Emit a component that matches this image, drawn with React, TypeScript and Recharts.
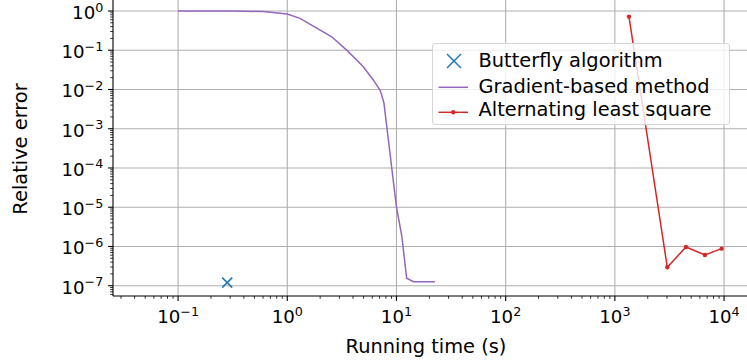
import React from 'react';
import { ComposedChart, Line, Scatter, XAxis, YAxis, ReferenceLine, Legend, Label } from 'recharts';

const FONT = '"DejaVu Sans", "Liberation Sans", sans-serif';
const TICK_FS = 18.2;
const SUP_FS = 12.7;
const LABEL_FS = 19.4;

const seriesNames = ['Butterfly algorithm', 'Gradient-based method', 'Alternating least square'];
const seriesColors = ['#1f77b4', '#9467bd', '#d62728'];

const butterflyX = [0.282];
const butterflyY = [1.2e-7];

const gradX = [0.1, 0.3, 0.6, 1.0, 1.31, 1.73, 2.55, 3.62, 4.97, 6.13, 7.06, 7.32, 7.68, 10.0, 11.2, 12.4, 14.3, 22.5];
const gradY = [1.0, 1.0, 0.97, 0.84, 0.65, 0.41, 0.22, 0.092, 0.038, 0.0175, 0.0097, 0.0072, 0.0045, 1.0e-5, 1.8e-6, 1.55e-7, 1.26e-7, 1.26e-7];

const alsX = [1346, 3020, 4480, 6680, 9500];
const alsY = [0.72, 2.95e-7, 9.7e-7, 6.07e-7, 8.8e-7];

const xDecades = [-2, -1, 0, 1, 2, 3, 4];
const yDecades = [-8, -7, -6, -5, -4, -3, -2, -1, 0];
const xDomain = [Math.pow(10, -1.596), Math.pow(10, 4.21)];
const yDomain = [Math.pow(10, -7.262), Math.pow(10, 0.28)];

const zip = (xs: number[], ys: number[]) => xs.map((x, i) => ({ x, y: ys[i] }));
const butterflyData = zip(butterflyX, butterflyY);
const gradData = zip(gradX, gradY);
const alsData = zip(alsX, alsY);

const inDomain = (v: number, d: number[]) => v >= d[0] * 0.9999 && v <= d[1] * 1.0001;
const majorTicks = (decs: number[], d: number[]) => decs.map((e) => Math.pow(10, e)).filter((v) => inDomain(v, d));
const allTicks = (decs: number[], d: number[]) => {
  const out: number[] = [];
  decs.forEach((e) => {
    for (let m = 1; m <= 9; m++) {
      const v = m * Math.pow(10, e);
      if (inDomain(v, d)) out.push(v);
    }
  });
  return out;
};
const xMajor = majorTicks(xDecades, xDomain);
const yMajor = majorTicks(yDecades, yDomain);
const xTicks = allTicks(xDecades, xDomain);
const yTicks = allTicks(yDecades, yDomain);

const expOf = (v: number) => {
  const e = Math.log10(v);
  const r = Math.round(e);
  return { major: Math.abs(e - r) < 1e-6, n: r };
};
const expText = (n: number) => (n < 0 ? '\u2212' + String(-n) : String(n));

const XTick = (props: any) => {
  const { x, y, payload } = props;
  const { major, n } = expOf(payload.value);
  if (!major) return <line x1={x} x2={x} y1={y} y2={y + 2.8} stroke="#000" strokeWidth={0.8} />;
  return (
    <g>
      <line x1={x} x2={x} y1={y} y2={y + 4.9} stroke="#000" strokeWidth={1.1} />
      <text x={x} y={y + 27} textAnchor="middle" fontFamily={FONT} fontSize={TICK_FS} fill="#000">
        <tspan>10</tspan>
        <tspan dy={-7.5} fontSize={SUP_FS}>{expText(n)}</tspan>
      </text>
    </g>
  );
};

const YTick = (props: any) => {
  const { x, y, payload } = props;
  const { major, n } = expOf(payload.value);
  if (!major) return <line x1={x - 2.8} x2={x} y1={y} y2={y} stroke="#000" strokeWidth={0.8} />;
  return (
    <g>
      <line x1={x - 4.9} x2={x} y1={y} y2={y} stroke="#000" strokeWidth={1.1} />
      <text x={x - 9.7} y={y + 8} textAnchor="end" fontFamily={FONT} fontSize={TICK_FS} fill="#000">
        <tspan>10</tspan>
        <tspan dy={-7.5} fontSize={SUP_FS}>{expText(n)}</tspan>
      </text>
    </g>
  );
};

const XShape = (props: any) => {
  const { cx, cy } = props;
  const s = 5;
  const c = seriesColors[0];
  return (
    <g>
      <line x1={cx - s} y1={cy - s} x2={cx + s} y2={cy + s} stroke={c} strokeWidth={1.5} />
      <line x1={cx - s} y1={cy + s} x2={cx + s} y2={cy - s} stroke={c} strokeWidth={1.5} />
    </g>
  );
};

const renderLegend = () => {
  const handleY = [18, 44.3, 69.3];
  const baseY = [23.7, 49.7, 72.9];
  return (
    <div
      style={{
        width: 298,
        height: 82,
        boxSizing: 'border-box',
        background: 'rgba(255,255,255,0.8)',
        border: '1px solid #d6d6d6',
        borderRadius: 3,
        position: 'relative',
      }}
    >
      <svg width={298} height={82} style={{ position: 'absolute', left: -1, top: -1 }}>
        <g>
          <line x1={15} y1={handleY[0] - 7} x2={29} y2={handleY[0] + 7} stroke={seriesColors[0]} strokeWidth={1.5} />
          <line x1={15} y1={handleY[0] + 7} x2={29} y2={handleY[0] - 7} stroke={seriesColors[0]} strokeWidth={1.5} />
        </g>
        <line x1={6.5} x2={36} y1={handleY[1]} y2={handleY[1]} stroke={seriesColors[1]} strokeWidth={1.5} />
        <line x1={6.5} x2={36} y1={handleY[2]} y2={handleY[2]} stroke={seriesColors[2]} strokeWidth={1.5} />
        <circle cx={21.2} cy={handleY[2]} r={2.2} fill={seriesColors[2]} />
        {seriesNames.map((name, i) => (
          <text key={name} x={46.5} y={baseY[i]} fontFamily={FONT} fontSize={LABEL_FS} fill="#000">
            {name}
          </text>
        ))}
      </svg>
    </div>
  );
};

export default function App() {
  return (
    <div style={{ position: 'absolute', left: 0, top: 0, width: 747, height: 364, background: '#fff' }}>
      <ComposedChart width={747} height={364} margin={{ top: 0, right: 0, bottom: 0, left: 0 }}>
        <XAxis
          dataKey="x"
          type="number"
          scale="log"
          domain={xDomain}
          allowDataOverflow
          ticks={xTicks}
          interval={0}
          tickSize={0}
          tickMargin={0}
          tickLine={false}
          tick={(p: any) => <XTick {...p} />}
          axisLine={{ stroke: '#000', strokeWidth: 1.1 }}
          height={68}
          label={
            <Label
              content={(p: any) => {
                const vb = p.viewBox || { x: 113, y: 296, width: 634, height: 68 };
                return (
                  <text x={vb.x + vb.width / 2 - 4} y={353} textAnchor="middle" fontFamily={FONT} fontSize={LABEL_FS} fill="#000">
                    Running time (s)
                  </text>
                );
              }}
            />
          }
        />
        <YAxis
          dataKey="y"
          type="number"
          scale="log"
          domain={yDomain}
          allowDataOverflow
          ticks={yTicks}
          interval={0}
          tickSize={0}
          tickMargin={0}
          tickLine={false}
          tick={(p: any) => <YTick {...p} />}
          axisLine={{ stroke: '#000', strokeWidth: 1.1 }}
          width={113}
          label={
            <Label
              content={(p: any) => {
                const vb = p.viewBox || { x: 0, y: 0, width: 113, height: 296 };
                const cy = vb.y + vb.height / 2 + 1;
                return (
                  <text x={27} y={cy} transform={`rotate(-90, 27, ${cy})`} textAnchor="middle" fontFamily={FONT} fontSize={LABEL_FS} fill="#000">
                    Relative error
                  </text>
                );
              }}
            />
          }
        />
        {xMajor.map((v) => (
          <ReferenceLine key={'gx' + v} x={v} stroke="#b0b0b0" strokeWidth={1.1} />
        ))}
        {yMajor.map((v) => (
          <ReferenceLine key={'gy' + v} y={v} stroke="#b0b0b0" strokeWidth={1.1} />
        ))}
        <Line
          data={gradData}
          dataKey="y"
          type="linear"
          stroke={seriesColors[1]}
          strokeWidth={1.5}
          dot={false}
          activeDot={false}
          isAnimationActive={false}
          name={seriesNames[1]}
        />
        <Line
          data={alsData}
          dataKey="y"
          type="linear"
          stroke={seriesColors[2]}
          strokeWidth={1.5}
          dot={{ r: 2.2, fill: seriesColors[2], stroke: seriesColors[2], strokeWidth: 0 }}
          activeDot={false}
          isAnimationActive={false}
          name={seriesNames[2]}
        />
        <Scatter data={butterflyData} dataKey="y" shape={(p: any) => <XShape {...p} />} isAnimationActive={false} name={seriesNames[0]} />
        <Legend
          layout="horizontal"
          align="center"
          verticalAlign="middle"
          wrapperStyle={{ left: 432, top: 43, width: 298, height: 82 }}
          content={renderLegend}
        />
      </ComposedChart>
    </div>
  );
}
